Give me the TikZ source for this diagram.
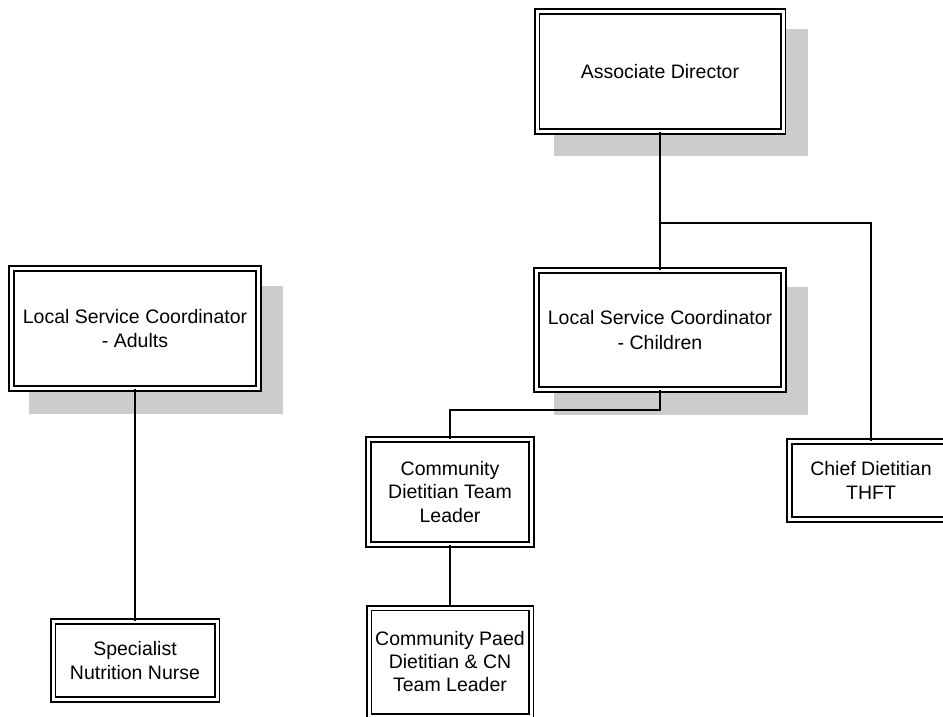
\documentclass[tikz,border=0pt]{standalone}
\usepackage{fontspec}
\setmainfont{Liberation Sans}
\definecolor{shadowgray}{RGB}{204,204,204}
\begin{document}
\begin{tikzpicture}[x=1pt,y=-1pt,
  box/.style={draw=black, line width=1.8pt, double=white, double distance=3pt,
    fill=white, inner sep=0pt, align=center,
    font=\fontsize{19.5}{24.5}\selectfont},
  link/.style={draw=black, line width=1.4pt}]
\useasboundingbox (0,0) rectangle (943,716);
\clip (0,0) rectangle (943,716);
% shadows
\fill[shadowgray] (554,29) rectangle (808,156);
\fill[shadowgray] (29,286) rectangle (283,414);
\fill[shadowgray] (554,287) rectangle (808,415);
% boxes
\node[box, minimum width=246pt, minimum height=120pt] (ad) at (660,71.5) {Associate Director};
\node[box, minimum width=247pt, minimum height=120pt] (lsca) at (135,328.5) {Local Service Coordinator\\- Adults};
\node[box, minimum width=247pt, minimum height=119pt] (lscc) at (660,330) {Local Service Coordinator\\- Children};
\node[box, minimum width=163pt, minimum height=105pt, font=\fontsize{19.5}{23.5}\selectfont] (cdtl) at (450,492) {Community\\Dietitian Team\\Leader};
\node[box, minimum width=163pt, minimum height=78pt] (cd) at (871,480.5) {Chief Dietitian\\THFT};
\node[box, minimum width=162pt, minimum height=108pt, font=\fontsize{19.5}{23}\selectfont] (cpd) at (450,662) {Community Paed\\Dietitian \& CN\\Team Leader};
\node[box, minimum width=164pt, minimum height=78pt] (snn) at (135,660.5) {Specialist\\Nutrition Nurse};
% connectors
\coordinate (j1) at (660,223);
\coordinate (j2) at (660,410);
\draw[link] (ad.south) -- (lscc.north);
\draw[link] (j1) -| (cd.north);
\draw[link] (lscc.south) -- (j2) -| (cdtl.north);
\draw[link] (cdtl.south) -- (cpd.north);
\draw[link] (lsca.south) -- (snn.north);
\end{tikzpicture}
\end{document}
